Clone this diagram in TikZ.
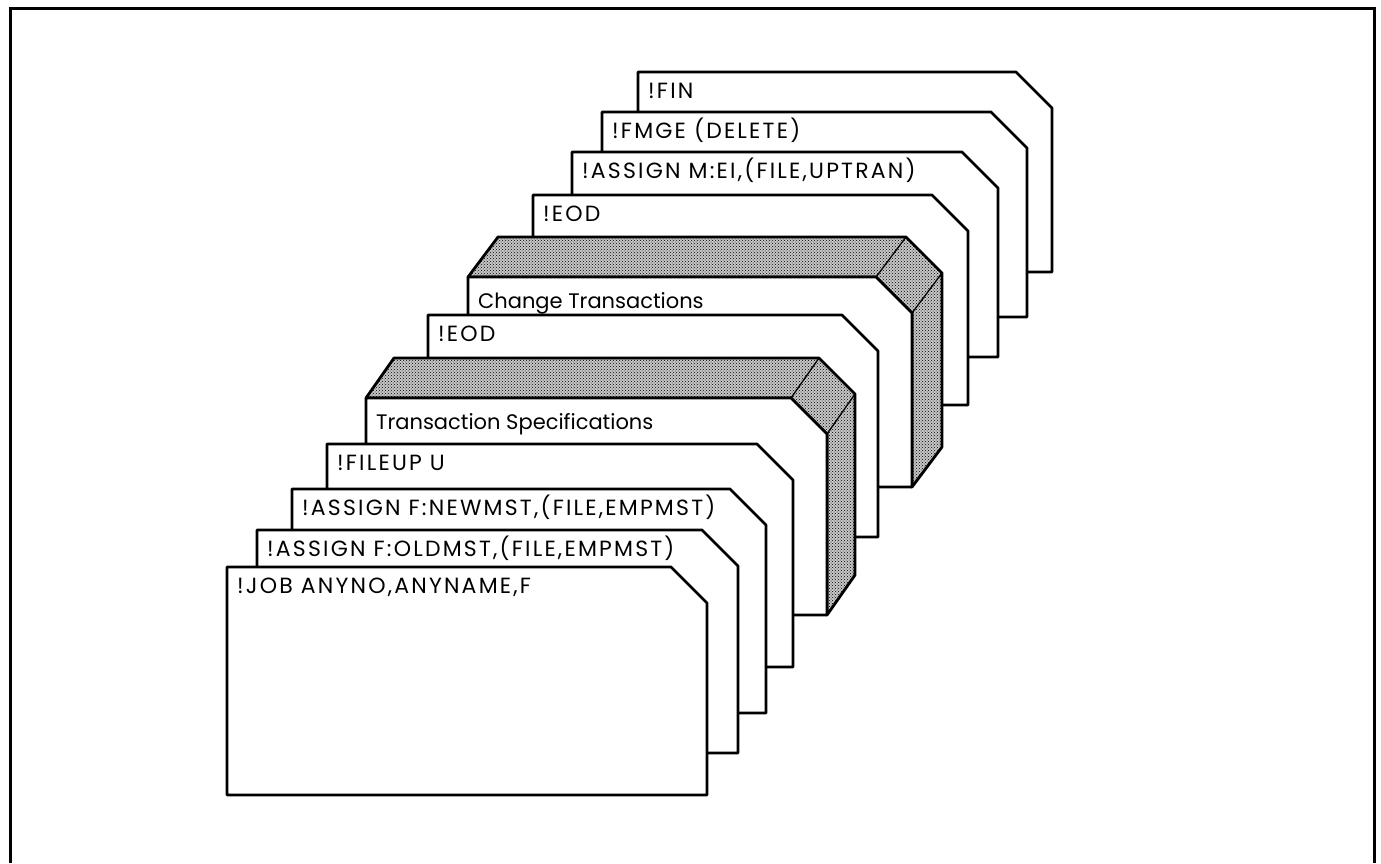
\documentclass[tikz,border=0pt]{standalone}
\usepackage{fontspec}
\setmainfont{Poppins}
\newfontfamily\cmdfont[LetterSpace=10]{Poppins}
\usetikzlibrary{patterns}
\tikzset{
  card/.style={draw, fill=white, line width=2.8pt, line join=round},
  slab/.style={draw, line width=2.8pt, line join=round, preaction={fill=black!22}, pattern=crosshatch dots},
  bevel/.style={line width=1.3pt},
  cardtext/.style={anchor=base west, inner sep=0pt, font=\fontsize{22}{26}\selectfont}
}
\newcommand{\cutsize}{36}
% \deckcard[text options]{name}{left}{top}{right}{bottom}{text}
\newcommand{\deckcard}[7][]{%
  \draw[card] (#3,#6) -- (#3,#4) -- ({#5-\cutsize},#4) -- (#5,{#4+\cutsize}) -- (#5,#6) -- cycle;
  \node[cardtext,#1] (#2) at ({#3+10},{#4+26}) {#7};
}
% \slabcard{name}{left}{top}{right}{bottom}{dx}{dy}{text}
\newcommand{\slabcard}[8]{%
  \draw[slab] (#2,#3) -- ({#2+#6},{#3-#7}) -- ({#4-\cutsize+#6},{#3-#7})
    -- ({#4+#6},{#3+\cutsize-#7}) -- ({#4+#6},{#5-#7}) -- (#4,#5)
    -- (#4,{#3+\cutsize}) -- ({#4-\cutsize},#3) -- cycle;
  \draw[bevel] ({#4-\cutsize},#3) -- ({#4-\cutsize+#6},{#3-#7})
    (#4,{#3+\cutsize}) -- ({#4+#6},{#3+\cutsize-#7});
  \deckcard[yshift=-5pt, font=\fontsize{21}{25}\selectfont]{#1}{#2}{#3}{#4}{#5}{#8}
}

\begin{document}
\begin{tikzpicture}[x=1pt, y=-1pt]
  \useasboundingbox (0,0) rectangle (1381,863);
  % frame
  \draw[line width=3pt] (10,863) -- (10,8) -- (1374,8) -- (1374,863);

  % deck, back to front
  \deckcard{fin}{638}{72}{1052}{272}{\cmdfont !FIN}
  \deckcard{fmge}{602}{112}{1027}{317}{\cmdfont !FMGE (DELETE)}
  \deckcard{assignm}{572}{152}{998}{357}{\cmdfont !ASSIGN M:EI,(FILE,UPTRAN)}
  \deckcard{eodtwo}{533}{195}{968}{405}{\cmdfont !EOD}
  \slabcard{change}{468}{277}{912}{487}{30}{40}{Change Transactions}
  \deckcard{eodone}{428}{315}{878}{537}{\cmdfont !EOD}
  \slabcard{spec}{366}{398}{827}{615}{28}{40}{Transaction Specifications}
  \deckcard{fileup}{327}{444}{793}{667}{\cmdfont !FILEUP U}
  \deckcard{newmst}{292}{489}{766}{713}{\cmdfont !ASSIGN F:NEWMST,(FILE,EMPMST)}
  \deckcard{oldmst}{257}{530}{738}{753}{\cmdfont !ASSIGN F:OLDMST,(FILE,EMPMST)}
  \deckcard{job}{227}{567}{707}{795}{\cmdfont !JOB ANYNO,ANYNAME,F}
\end{tikzpicture}
\end{document}
